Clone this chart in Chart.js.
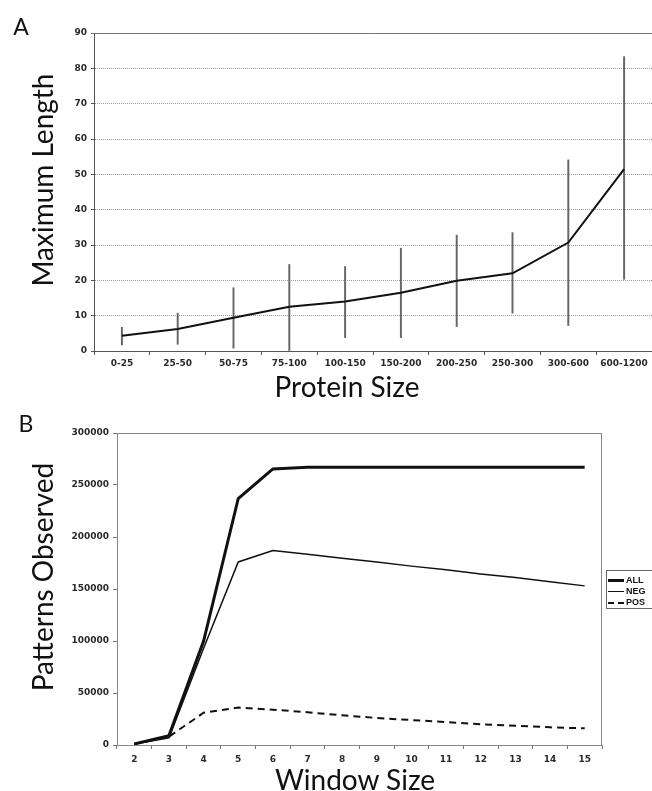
<!DOCTYPE html>
<html>
<head>
<meta charset="utf-8">
<script src="https://cdn.jsdelivr.net/npm/chart.js@4.4.1/dist/chart.umd.min.js"></script>
<style>
  html, body { margin: 0; padding: 0; background: #fff; overflow: hidden; }
  #wrap { position: relative; width: 652px; height: 791px; overflow: hidden; }
  canvas { position: absolute; left: 0; }
  .big { position: absolute; font-family: Lato, "Open Sans", sans-serif; font-size: 28px; line-height: 1; color: #111; white-space: nowrap; transform: translate(-50%, -50%); }
  .rot { transform: translate(-50%, -50%) rotate(-90deg); }
  .letter { position: absolute; font-family: Lato, "Open Sans", sans-serif; font-size: 23px; line-height: 1; color: #111; transform: translate(-50%, -50%); }
  #legendB { position: absolute; left: 606px; top: 570px; width: 60px; height: 39px; border: 1px solid #666; box-sizing: border-box;
    font: bold 9px "Liberation Sans", Arial, sans-serif; color: #111; }
  #legendB div { height: 10px; line-height: 10px; margin-top: 1px; white-space: nowrap; }
  #legendB div:first-child { margin-top: 4px; }
  #legendB span { display: inline-block; width: 16px; vertical-align: middle; margin: 0 2px 0 1px; }
</style>
</head>
<body>
<div id="wrap">
  <canvas id="chartA" width="652" height="400" style="top:0"></canvas>
  <canvas id="chartB" width="652" height="391" style="top:400px"></canvas>

  <div class="letter" style="left:21px;top:26px">A</div>
  <div class="letter" style="left:26px;top:423px">B</div>

  <div class="big rot" style="left:42px;top:180px">Maximum Length</div>
  <div class="big" style="left:347px;top:386px">Protein Size</div>
  <div class="big rot" style="left:42px;top:577px">Patterns Observed</div>
  <div class="big" style="left:355px;top:779px">Window Size</div>

  <div id="legendB">
    <div><span style="border-top:3px solid #111"></span>ALL</div>
    <div><span style="border-top:1.5px solid #111"></span>NEG</div>
    <div><span style="border-top:2px dashed #111"></span>POS</div>
  </div>
</div>

<script>
/* Panel A data
 -----------------------------------------------*/
const proteinSizes = ['0-25', '25-50', '50-75', '75-100', '100-150', '150-200', '200-250', '250-300', '300-600', '600-1200'];
const maxLength = [4.3, 6.2, 9.4, 12.5, 14.0, 16.5, 19.9, 22.0, 30.7, 51.5];
const errLow = [1.7, 1.9, 0.8, 0, 3.8, 3.8, 6.9, 10.7, 7.2, 20.3];
const errHigh = [6.7, 10.7, 17.9, 24.5, 23.9, 29.1, 32.8, 33.5, 54.1, 83.3];

/* Panel B data
 -----------------------------------------------*/
const windowSizes = ['2', '3', '4', '5', '6', '7', '8', '9', '10', '11', '12', '13', '14', '15'];
const allCounts = [1000, 9000, 100000, 237000, 265500, 267000, 267000, 267000, 267000, 267000, 267000, 267000, 267000, 267000];
const negCounts = [1000, 7000, 93000, 176000, 187000, 183500, 179500, 176000, 172000, 168500, 164500, 161000, 157000, 153000];
const posCounts = [1000, 8000, 31000, 36000, 34000, 31500, 28500, 26000, 24000, 22000, 20000, 18500, 17000, 16000];

const tickFont = {family: 'DejaVu Sans', size: 9, weight: 'bold'};
const tickColor = '#2a2a2a';

// draws the outer frame lines of the plot area
const framePlugin = {
    id: 'frame',
    afterDraw(chart, args, opts) {
        const a = chart.chartArea;
        const ctx = chart.ctx;
        ctx.save();
        ctx.strokeStyle = opts.color;
        ctx.lineWidth = 1;
        ctx.beginPath();
        ctx.moveTo(a.left - (opts.tick || 0), a.top + 0.5);
        ctx.lineTo(a.right, a.top + 0.5);
        if (opts.right) {
            ctx.moveTo(a.right - 0.5, a.top);
            ctx.lineTo(a.right - 0.5, a.bottom);
        }
        ctx.stroke();
        ctx.restore();
    }
};

let errBars = [];
for (let i = 0; i < proteinSizes.length; i++) {
    errBars.push([errLow[i], errHigh[i]]);
}

let chartA = new Chart(document.getElementById('chartA').getContext('2d'), {
    data: {
        labels: proteinSizes,
        datasets: [{
            type: 'line',
            data: maxLength,
            borderColor: '#111',
            borderWidth: 2,
            pointRadius: 0,
            tension: 0,
            order: 0
        }, {
            type: 'bar',
            data: errBars,
            backgroundColor: '#666',
            barThickness: 1.3,
            grouped: false,
            order: 1
        }]
    },
    options: {
        responsive: false,
        animation: false,
        layout: {padding: {top: 33, right: 0, left: 0, bottom: 0}},
        plugins: {
            legend: {display: false},
            tooltip: {enabled: false},
            frame: {color: '#777', tick: 3}
        },
        scales: {
            x: {
                offset: true,
                grid: {offset: true, drawOnChartArea: false, drawTicks: true, tickLength: 4, color: '#555'},
                border: {color: '#555'},
                ticks: {font: tickFont, color: tickColor, padding: 3, maxRotation: 0, autoSkip: false},
                afterFit: function (s) { s.height = 49; }
            },
            y: {
                min: 0,
                max: 90,
                ticks: {stepSize: 10, font: tickFont, color: tickColor, padding: 4},
                grid: {color: '#999', drawTicks: true, tickLength: 3, tickColor: '#555'},
                border: {color: '#555', dash: [1, 1]},
                afterFit: function (s) { s.width = 94; }
            }
        }
    },
    plugins: [framePlugin]
});

let chartB = new Chart(document.getElementById('chartB').getContext('2d'), {
    type: 'line',
    data: {
        labels: windowSizes,
        datasets: [{
            label: 'ALL',
            data: allCounts,
            borderColor: '#111',
            borderWidth: 3,
            pointRadius: 0,
            tension: 0
        }, {
            label: 'NEG',
            data: negCounts,
            borderColor: '#111',
            borderWidth: 1.5,
            pointRadius: 0,
            tension: 0
        }, {
            label: 'POS',
            data: posCounts,
            borderColor: '#111',
            borderWidth: 2,
            borderDash: [7, 5],
            pointRadius: 0,
            tension: 0
        }]
    },
    options: {
        responsive: false,
        animation: false,
        layout: {padding: {top: 33, right: 50, left: 0, bottom: 0}},
        plugins: {
            legend: {display: false},
            tooltip: {enabled: false},
            frame: {color: '#888', right: true}
        },
        scales: {
            x: {
                offset: true,
                grid: {offset: true, drawOnChartArea: false, drawTicks: true, tickLength: 4, color: '#777'},
                border: {color: '#888'},
                ticks: {font: tickFont, color: tickColor, padding: 5, maxRotation: 0, autoSkip: false},
                afterFit: function (s) { s.height = 46; }
            },
            y: {
                min: 0,
                max: 300000,
                ticks: {
                    stepSize: 50000, font: tickFont, color: tickColor, padding: 4,
                    callback: function (v) { return String(v); }
                },
                grid: {drawOnChartArea: false, drawTicks: true, tickLength: 4, color: '#777'},
                border: {color: '#888'},
                afterFit: function (s) { s.width = 117; }
            }
        }
    },
    plugins: [framePlugin]
});
</script>
</body>
</html>
